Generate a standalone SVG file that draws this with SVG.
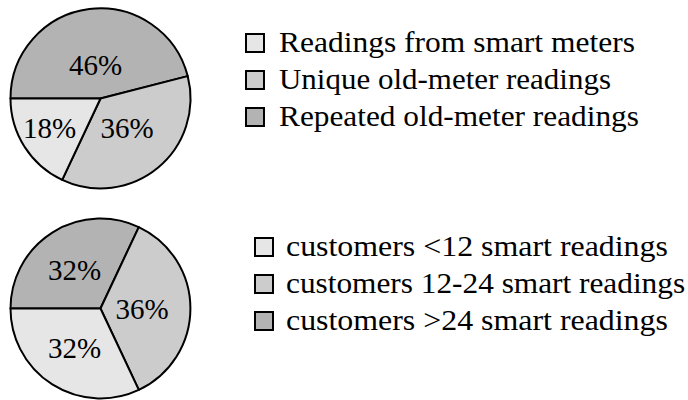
<svg xmlns="http://www.w3.org/2000/svg" width="688" height="400" viewBox="0 0 688 400">
  <style>
    .slice { stroke: #000; stroke-width: 2; stroke-linejoin: round; }
    .light { fill: #e6e6e6; }
    .mid { fill: #cccccc; }
    .dark { fill: #b3b3b3; }
    .pct { font-size: 29px; fill: #000; text-anchor: middle; }
    .key { stroke: #000; stroke-width: 2; }
    .lbl { font-size: 29px; fill: #000; }
  </style>
  <rect width="688" height="400" fill="#ffffff"/>

  <!-- Pie 1: meter readings (46 / 36 / 18) -->
  <g id="pie-readings" font-family="Liberation Serif">
    <path class="slice dark" d="M100.5,98.5 L10.5,98.5 A90,90 0 0 1 187.7,76.1 Z"/>
    <path class="slice mid" d="M100.5,98.5 L187.7,76.1 A90,90 0 0 1 62.2,179.9 Z"/>
    <path class="slice light" d="M100.5,98.5 L62.2,179.9 A90,90 0 0 1 10.5,98.5 Z"/>
    <text class="pct" font-family="Liberation Serif" x="95.5" y="75">46%</text>
    <text class="pct" font-family="Liberation Serif" x="127" y="138">36%</text>
    <text class="pct" font-family="Liberation Serif" x="49.5" y="138">18%</text>
  </g>

  <!-- Legend for pie 1 (labels widened slightly with a horizontal scale) -->
  <g id="legend-smart" font-family="Liberation Serif">
    <rect class="key light" x="246" y="34" width="18" height="18"/>
    <text class="lbl" font-family="Liberation Serif" transform="translate(279,52) scale(1.086,1)">Readings from smart meters</text>
  </g>
  <g id="legend-unique" font-family="Liberation Serif">
    <rect class="key mid" x="246" y="71" width="18" height="18"/>
    <text class="lbl" font-family="Liberation Serif" transform="translate(279,89) scale(1.068,1)">Unique old-meter readings</text>
  </g>
  <g id="legend-repeated" font-family="Liberation Serif">
    <rect class="key dark" x="246" y="108" width="18" height="18"/>
    <text class="lbl" font-family="Liberation Serif" transform="translate(279,126) scale(1.08,1)">Repeated old-meter readings</text>
  </g>

  <!-- Pie 2: customers by number of smart readings (32 / 36 / 32) -->
  <g id="pie-customers" font-family="Liberation Serif">
    <path class="slice dark" d="M100.5,308.5 L10.5,308.5 A90,90 0 0 1 138.8,227.1 Z"/>
    <path class="slice mid" d="M100.5,308.5 L138.8,227.1 A90,90 0 0 1 138.8,389.9 Z"/>
    <path class="slice light" d="M100.5,308.5 L138.8,389.9 A90,90 0 0 1 10.5,308.5 Z"/>
    <text class="pct" font-family="Liberation Serif" x="74.5" y="280">32%</text>
    <text class="pct" font-family="Liberation Serif" x="142" y="319">36%</text>
    <text class="pct" font-family="Liberation Serif" x="74.5" y="358">32%</text>
  </g>

  <!-- Legend for pie 2 -->
  <g id="legend-lt12" font-family="Liberation Serif">
    <rect class="key light" x="255" y="238" width="18" height="18"/>
    <text class="lbl" font-family="Liberation Serif" transform="translate(286,256) scale(1.1,1)">customers &lt;12 smart readings</text>
  </g>
  <g id="legend-12to24" font-family="Liberation Serif">
    <rect class="key mid" x="255" y="275" width="18" height="18"/>
    <text class="lbl" font-family="Liberation Serif" transform="translate(286,293) scale(1.08,1)">customers 12-24 smart readings</text>
  </g>
  <g id="legend-gt24" font-family="Liberation Serif">
    <rect class="key dark" x="255" y="312" width="18" height="18"/>
    <text class="lbl" font-family="Liberation Serif" transform="translate(286,330) scale(1.1,1)">customers &gt;24 smart readings</text>
  </g>
</svg>
